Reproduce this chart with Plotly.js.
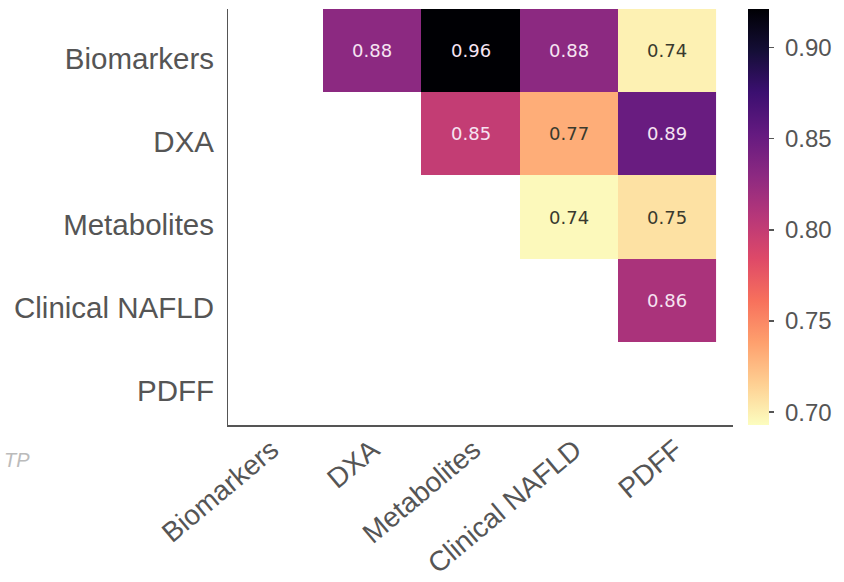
<!DOCTYPE html>
<html>
<head>
<meta charset="utf-8">
<script src="https://cdn.plot.ly/plotly-3.0.1.min.js"></script>
<style>html,body{margin:0;padding:0;background:#fff;}#chart{width:844px;height:582px;}</style>
</head>
<body>
<div id="chart"></div>
<script>
// ---- data ----
const rowLabels = ['Biomarkers', 'DXA', 'Metabolites', 'Clinical NAFLD', 'PDFF'];
const colLabels = ['Biomarkers', 'DXA', 'Metabolites', 'Clinical NAFLD', 'PDFF'];
// values as printed in the cells (upper triangle)
const annotValues = [
  [null, 0.88, 0.96, 0.88, 0.74],
  [null, null, 0.85, 0.77, 0.89],
  [null, null, null, 0.74, 0.75],
  [null, null, null, null, 0.86],
  [null, null, null, null, null]
];
// values
const colorValues = [
  [null, 0.830, 0.930, 0.830, 0.699],
  [null, null, 0.800, 0.732, 0.850],
  [null, null, null, 0.695, 0.707],
  [null, null, null, null, 0.814],
  [null, null, null, null, null]
];
const colorbarTicks = [0.70, 0.75, 0.80, 0.85, 0.90];
const colorRange = [0.693, 0.921];
const footnoteText = 'TP';

// magma reversed
const magma = ['#000004','#140e36','#3b0f70','#641a80','#8c2981','#b73779','#de4968','#f7705c','#fe9f6d','#fecf92','#fcfdbf'];
const magmaR = magma.slice().reverse().map((c, i, a) => [i / (a.length - 1), c]);

const yLabelFont = {family: 'Liberation Sans, Arial, sans-serif', size: 29.5, color: '#555555'};
const xLabelFont = {family: 'Liberation Sans, Arial, sans-serif', size: 28, color: '#555555'};

const heat = {
  type: 'heatmap',
  x: colLabels,
  y: rowLabels,
  z: colorValues,
  zmin: colorRange[0],
  zmax: colorRange[1],
  colorscale: magmaR,
  hoverongaps: false,
  colorbar: {
    thickness: 21,
    len: 1, lenmode: 'fraction',
    x: 1.0297, xanchor: 'left', xpad: 0,
    y: 0.5, yanchor: 'middle', ypad: 0,
    outlinewidth: 0,
    tickvals: colorbarTicks,
    ticktext: colorbarTicks.map(v => '\u00a0' + v.toFixed(2)),
    ticks: 'outside', ticklen: 5, tickwidth: 1.5, tickcolor: '#555555',
    tickfont: {family: 'Liberation Sans, Arial, sans-serif', size: 24, color: '#555555'}
  },
  xaxis: 'x', yaxis: 'y'
};

const dummy = {type: 'scatter', x: [], y: [], xaxis: 'x2', yaxis: 'y2', showlegend: false, hoverinfo: 'skip'};

const annotations = [];
annotValues.forEach((row, i) => row.forEach((v, j) => {
  if (v === null) return;
  const dark = colorValues[i][j] > 0.77;
  annotations.push({
    x: colLabels[j], y: rowLabels[i], xref: 'x', yref: 'y',
    text: v.toFixed(2), showarrow: false,
    font: {family: 'DejaVu Sans, sans-serif', size: 18, color: dark ? '#f6e4f2' : '#3a3a2e'}
  });
}));
annotations.push({
  xref: 'paper', yref: 'paper', x: -0.389, y: -0.084,
  xanchor: 'right', yanchor: 'middle', showarrow: false,
  text: footnoteText,
  font: {family: 'Liberation Sans, Arial, sans-serif', size: 20, color: '#bbbbbb', style: 'italic'}
});

const idx = colLabels.map((c, i) => i);

const layout = {
  width: 844, height: 582,
  margin: {l: 228, r: 111, t: 9, b: 157, pad: 0, autoexpand: false},
  paper_bgcolor: '#ffffff', plot_bgcolor: '#ffffff',
  showlegend: false,
  xaxis: {
    type: 'category', categoryarray: colLabels, range: [-0.47, 4.67],
    showticklabels: false, ticks: '', showgrid: false, zeroline: false,
    showline: true, linecolor: '#555555', linewidth: 1.5, fixedrange: true
  },
  yaxis: {
    type: 'category', categoryarray: rowLabels, range: [4.5, -0.5],
    showticklabels: false, ticks: '', showgrid: false, zeroline: false,
    showline: true, linecolor: '#555555', linewidth: 1.5, fixedrange: true
  },
  xaxis2: {
    overlaying: 'x', anchor: 'y', side: 'bottom',
    range: [-0.43, 4.57], tickvals: idx, ticktext: colLabels,
    tickangle: -40, tickfont: xLabelFont, ticks: '', ticklabelstandoff: 2,
    showgrid: false, zeroline: false, showline: false, fixedrange: true
  },
  yaxis2: {
    overlaying: 'y', anchor: 'x', side: 'left',
    range: [4.411, -0.604], tickvals: idx, ticktext: rowLabels,
    tickfont: yLabelFont, ticks: '', ticklabelstandoff: 13,
    showgrid: false, zeroline: false, showline: false, fixedrange: true
  },
  annotations: annotations
};

Plotly.newPlot('chart', [heat, dummy], layout, {displayModeBar: false, staticPlot: true});
</script>
</body>
</html>
